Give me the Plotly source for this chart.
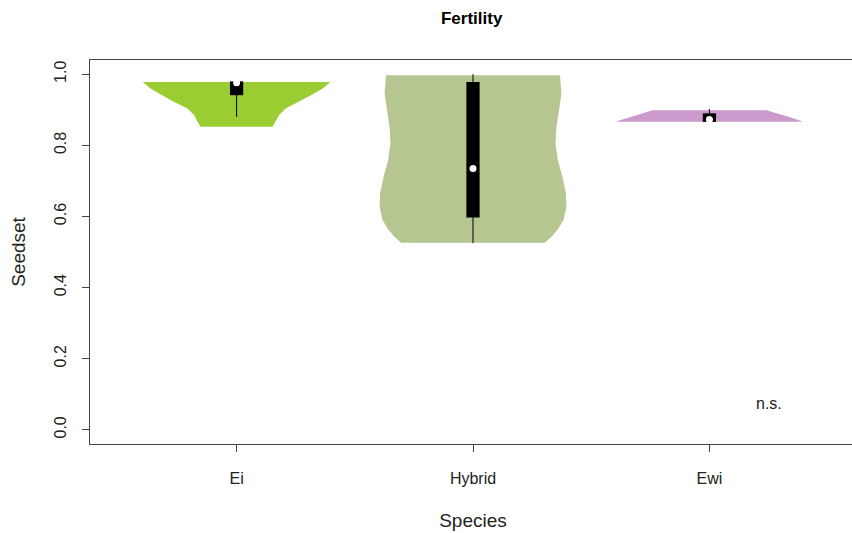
import plotly.graph_objects as go

species = ['Ei', 'Hybrid', 'Ewi']
colors = ['#9ACD32', '#B5C690', '#CC99CC']

# violin outlines: seedset level and half width (x units)
ei_y = [0.852, 0.866, 0.885, 0.904, 0.922, 0.941, 0.960, 0.978]
ei_w = [0.152, 0.165, 0.180, 0.209, 0.264, 0.315, 0.364, 0.397]
hy_y = [0.526, 0.543, 0.562, 0.590, 0.627, 0.665, 0.712, 0.758, 0.805, 0.852, 0.899, 0.946, 0.997]
hy_w = [0.304, 0.332, 0.357, 0.383, 0.395, 0.393, 0.378, 0.359, 0.349, 0.353, 0.364, 0.374, 0.368]
ew_y = [0.866, 0.869, 0.880, 0.890, 0.899]
ew_w = [0.393, 0.385, 0.338, 0.283, 0.241]

# box stats: min, q1, median, q3, max
box_min = [0.880, 0.525, 0.866]
box_q1 = [0.941, 0.597, 0.866]
box_med = [0.976, 0.735, 0.873]
box_q3 = [0.980, 0.978, 0.890]
box_max = [0.980, 1.000, 0.902]

profiles = [(ei_y, ei_w), (hy_y, hy_w), (ew_y, ew_w)]

fig = go.Figure()
bw = 0.028
for i, (ys, ws) in enumerate(profiles):
    pos = i + 1
    xs = [pos + w for w in ws] + [pos - w for w in reversed(ws)]
    yy = list(ys) + list(reversed(ys))
    fig.add_trace(go.Scatter(x=xs, y=yy, fill='toself', fillcolor=colors[i],
                             line=dict(width=0, color=colors[i]), mode='lines',
                             hoverinfo='skip', showlegend=False))
    # whisker
    fig.add_trace(go.Scatter(x=[pos, pos], y=[box_min[i], box_max[i]], mode='lines',
                             line=dict(color='black', width=1), showlegend=False))
    # box
    fig.add_trace(go.Scatter(x=[pos - bw, pos + bw, pos + bw, pos - bw, pos - bw],
                             y=[box_q1[i], box_q1[i], box_q3[i], box_q3[i], box_q1[i]],
                             fill='toself', fillcolor='black', mode='lines',
                             line=dict(color='black', width=0), showlegend=False))
    # median
    fig.add_trace(go.Scatter(x=[pos], y=[box_med[i]], mode='markers',
                             marker=dict(color='white', size=7, line=dict(width=0)),
                             showlegend=False))

fig.add_annotation(x=3.25, y=0.075, text='n.s.', showarrow=False,
                   font=dict(size=16, color='#222'))

font = 'Liberation Sans, Arial, sans-serif'
fig.update_layout(
    width=856, height=533,
    margin=dict(l=90, r=0, t=60, b=89, autoexpand=False),
    paper_bgcolor='white', plot_bgcolor='white',
    font=dict(family=font, size=16, color='#222'),
    title=dict(text='<b>Fertility</b>', x=0.551, xanchor='center', y=0.967, yanchor='middle',
               font=dict(size=17, color='black'), automargin=False),
    showlegend=False,
)
fig.update_xaxes(range=[0.38, 3.62], tickvals=[1, 2, 3], ticktext=species,
                 showgrid=False, zeroline=False, showline=True, mirror=True,
                 linecolor='#444', linewidth=1, ticks='outside', ticklen=7,
                 tickcolor='#444', ticklabelstandoff=13, automargin=False,
                 title=dict(text='Species', standoff=27))
fig.update_yaxes(range=[-0.04, 1.04], tickvals=[0, 0.2, 0.4, 0.6, 0.8, 1.0],
                 ticktext=['0.0', '0.2', '0.4', '0.6', '0.8', '1.0'], tickangle=-90,
                 showgrid=False, zeroline=False, showline=True, mirror=False,
                 linecolor='#444', linewidth=1, ticks='outside', ticklen=7,
                 tickcolor='#444', ticklabelstandoff=10, automargin=False,
                 title=dict(text='Seedset', standoff=20))

# page body has a default 8px margin; drop it so the figure sits at the corner
fig.write_html('out.html', config={'displayModeBar': False},
               post_script="document.body.style.margin='0';document.body.style.overflow='hidden';")
